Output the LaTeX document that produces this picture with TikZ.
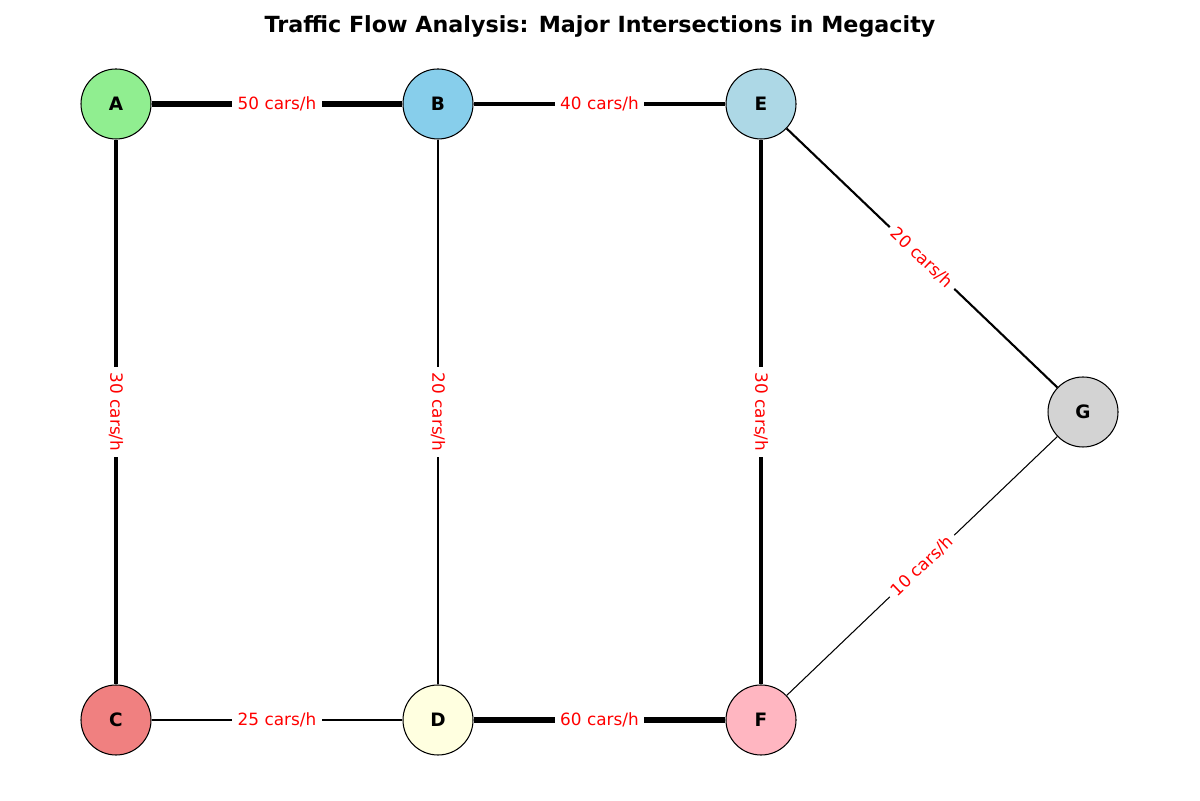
\documentclass[tikz,border=0pt]{standalone}
\usepackage{fontspec}
\setmainfont{DejaVu Sans}
\usepackage{tikz}

\definecolor{lgreen}{HTML}{90EE90}
\definecolor{sky}{HTML}{87CEEB}
\definecolor{lblue}{HTML}{ADD8E6}
\definecolor{lgray}{HTML}{D3D3D3}
\definecolor{lcoral}{HTML}{F08080}
\definecolor{lyellow}{HTML}{FFFFE0}
\definecolor{lpink}{HTML}{FFB6C1}

\begin{document}
\begin{tikzpicture}[inner sep=1mm,
  inter/.style={circle, minimum size=1.4cm, draw=black, line width=0.6pt, font=\fontsize{10.5}{12}\selectfont\bfseries},
  rate/.style={fill=white, text=red, inner sep=3pt, sloped, font=\fontsize{9.6}{11.5}\selectfont}]
\useasboundingbox (0,0) rectangle (24,16);
\node (title) at (12,15.47) [font=\fontsize{12.65}{15}\selectfont\bfseries] {Traffic Flow Analysis: Major Intersections in Megacity};
\node (A) at (2.32,13.92) [inter, fill=lgreen] {A};
\node (B) at (8.76,13.92) [inter, fill=sky] {B};
\node (E) at (15.22,13.92) [inter, fill=lblue] {E};
\node (G) at (21.66,7.76) [inter, fill=lgray] {G};
\node (C) at (2.32,1.6) [inter, fill=lcoral] {C};
\node (D) at (8.76,1.6) [inter, fill=lyellow] {D};
\node (F) at (15.22,1.6) [inter, fill=lpink] {F};
\draw[line width=3pt] (A) -- node[rate] {50 cars/h} (B);
\draw[line width=2.4pt] (B) -- node[rate] {40 cars/h} (E);
\draw[line width=1.8pt] (A) -- node[rate] {30 cars/h} (C);
\draw[line width=1.2pt] (B) -- node[rate] {20 cars/h} (D);
\draw[line width=1.8pt] (E) -- node[rate] {30 cars/h} (F);
\draw[line width=1.2pt] (E) -- node[rate] {20 cars/h} (G);
\draw[line width=1.2pt] (C) -- node[rate] {25 cars/h} (D);
\draw[line width=3.6pt] (D) -- node[rate] {60 cars/h} (F);
\draw[line width=0.6pt] (F) -- node[rate] {10 cars/h} (G);
\end{tikzpicture}
\end{document}
